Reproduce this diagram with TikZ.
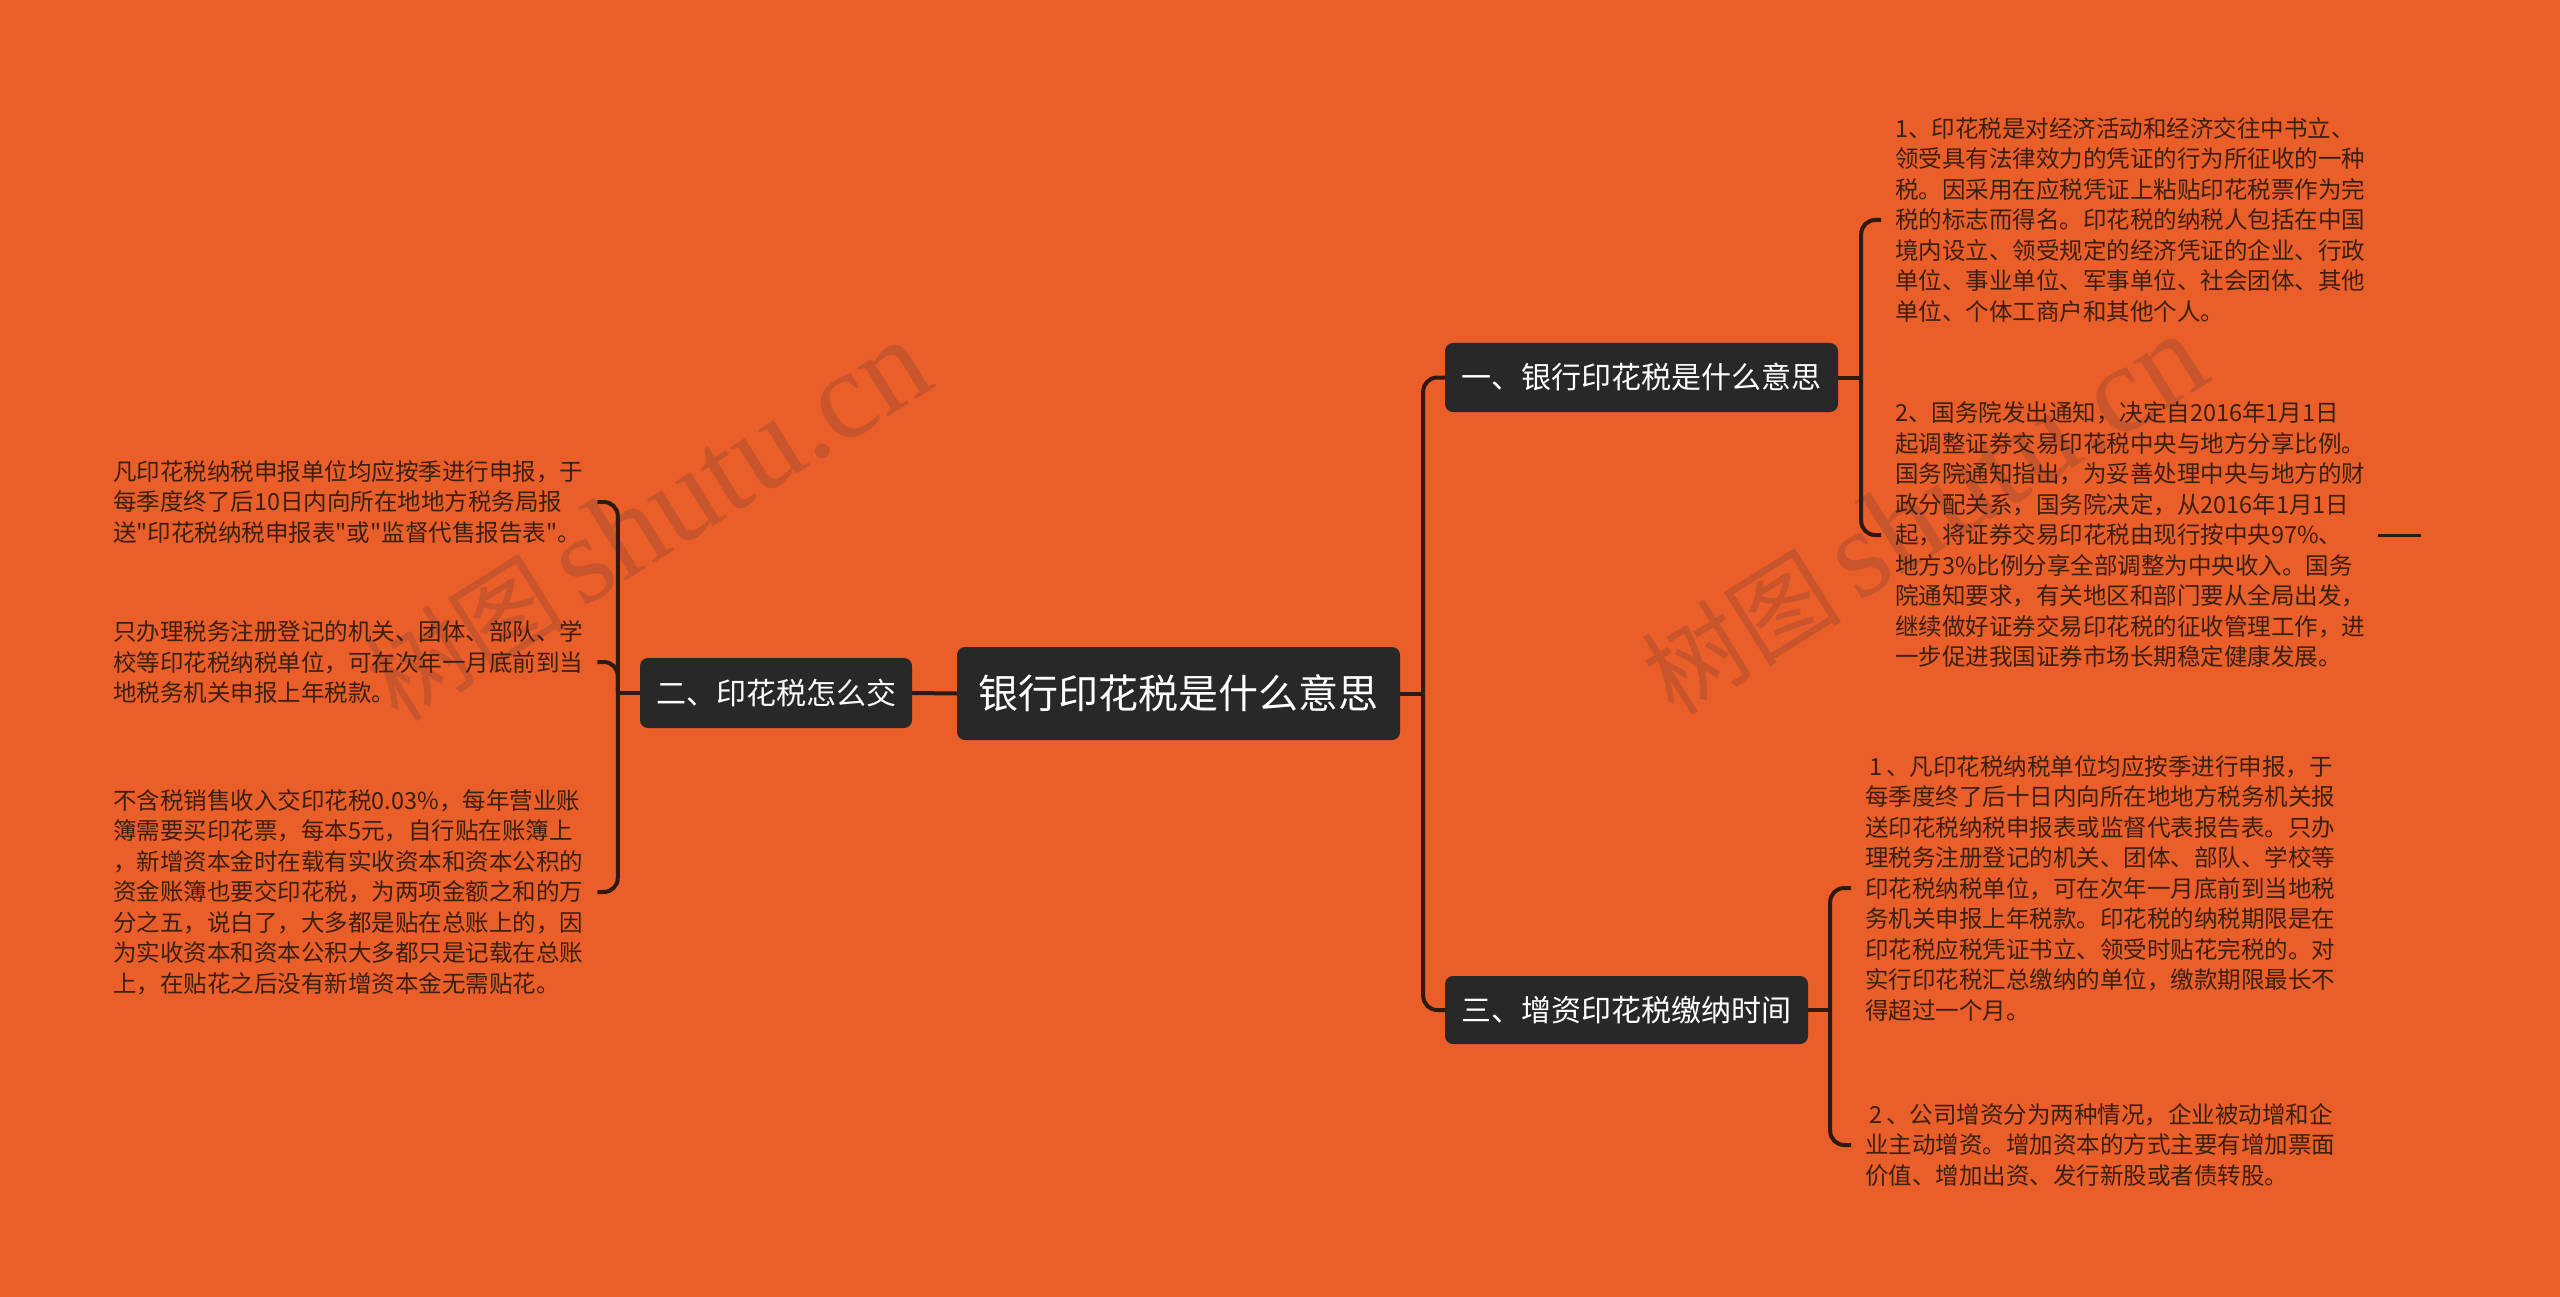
\documentclass[tikz,border=0pt]{standalone}
\usepackage{fontspec}
\newfontfamily\cjk{Noto Sans CJK SC}
\newfontfamily\wmlatin{Liberation Serif}
\definecolor{bgcol}{HTML}{E95E29}
\definecolor{nodefill}{HTML}{282828}
\definecolor{linecol}{HTML}{2E1A10}
\definecolor{leaftext}{HTML}{3B2012}
\definecolor{wmcol}{HTML}{C9552C}
\tikzset{
  topic/.style={fill=nodefill, rounded corners=8pt, text=white, inner sep=0pt,
    font=\cjk\fontsize{30}{36}\selectfont},
  leaf/.style={align=left, inner xsep=14pt, inner ysep=0pt, text=leaftext,
    font=\cjk\fontsize{23.5}{30.5}\selectfont, anchor=west},
  leafr/.style={leaf},
  leafl/.style={leaf},
  conn/.style={draw=linecol, line width=4pt, rounded corners=14pt},
  wmark/.style={text=wmcol, rotate=32, inner sep=0pt}
}
\begin{document}
\begin{tikzpicture}[x=1pt,y=-1pt]
\useasboundingbox (0,0) rectangle (2560,1297);
\fill[bgcol] (0,0) rectangle (2560,1297);

% watermarks
\node[wmark] (wm1) at (648,521) {\cjk\fontsize{100}{110}\selectfont 树图\,{\wmlatin\fontsize{125}{130}\selectfont shutu.cn}};
\node[wmark] (wm2) at (1924,515) {\cjk\fontsize{100}{110}\selectfont 树图\,{\wmlatin\fontsize{125}{130}\selectfont shutu.cn}};

% topics
\node[topic, minimum width=443pt, minimum height=93pt, font=\cjk\fontsize{40}{48}\selectfont] (c) at (1178.5,693.5) {银行印花税是什么意思};
\node[topic, minimum width=272pt, minimum height=70pt] (n2) at (776,693) {二、印花税怎么交};
\node[topic, minimum width=393pt, minimum height=69pt] (n1) at (1641.5,377.5) {一、银行印花税是什么意思};
\node[topic, minimum width=363pt, minimum height=68pt] (n3) at (1626.5,1010) {三、增资印花税缴纳时间};

% left leaves
\node[leafl] (ll1) at (99,502) {凡印花税纳税申报单位均应按季进行申报，于\\每季度终了后10日内向所在地地方税务局报\\送"印花税纳税申报表"或"监督代售报告表"。};
\node[leafl] (ll2) at (99,662) {只办理税务注册登记的机关、团体、部队、学\\校等印花税纳税单位，可在次年一月底前到当\\地税务机关申报上年税款。};
\node[leafl] (ll3) at (99,892) {不含税销售收入交印花税0.03\%，每年营业账\\簿需要买印花票，每本5元，自行贴在账簿上\\，新增资本金时在载有实收资本和资本公积的\\资金账簿也要交印花税，为两项金额之和的万\\分之五，说白了，大多都是贴在总账上的，因\\为实收资本和资本公积大多都只是记载在总账\\上，在贴花之后没有新增资本金无需贴花。};

% right leaves
\node[leafr] (rl1) at (1881,220) {1、印花税是对经济活动和经济交往中书立、\\领受具有法律效力的凭证的行为所征收的一种\\税。因采用在应税凭证上粘贴印花税票作为完\\税的标志而得名。印花税的纳税人包括在中国\\境内设立、领受规定的经济凭证的企业、行政\\单位、事业单位、军事单位、社会团体、其他\\单位、个体工商户和其他个人。};
\node[leafr] (rl2) at (1881,535) {2、国务院发出通知，决定自2016年1月1日\\起调整证券交易印花税中央与地方分享比例。\\国务院通知指出，为妥善处理中央与地方的财\\政分配关系，国务院决定，从2016年1月1日\\起，将证券交易印花税由现行按中央97\%、\\地方3\%比例分享全部调整为中央收入。国务\\院通知要求，有关地区和部门要从全局出发，\\继续做好证券交易印花税的征收管理工作，进\\一步促进我国证券市场长期稳定健康发展。};
\node[leafr] (rl3) at (1851,888) {\hspace*{4pt}1\hspace{4pt}、凡印花税纳税单位均应按季进行申报，于\\每季度终了后十日内向所在地地方税务机关报\\送印花税纳税申报表或监督代表报告表。只办\\理税务注册登记的机关、团体、部队、学校等\\印花税纳税单位，可在次年一月底前到当地税\\务机关申报上年税款。印花税的纳税期限是在\\印花税应税凭证书立、领受时贴花完税的。对\\实行印花税汇总缴纳的单位，缴款期限最长不\\得超过一个月。};
\node[leafr] (rl4) at (1851,1145) {\hspace*{4pt}2\hspace{4pt}、公司增资分为两种情况，企业被动增和企\\业主动增资。增加资本的方式主要有增加票面\\价值、增加出资、发行新股或者债转股。};

% connectors: center to topics
\coordinate (rb) at ([xshift=23pt]c.east);
\draw[conn] (c.east) -- (rb);
\draw[conn] (rb) -- (rb |- n1.west) -- (n1.west);
\draw[conn] (rb) -- (rb |- n3.west) -- (n3.west);
\draw[conn] (c.west) -- (n2.east);

% left bracket
\coordinate (lb) at ([xshift=-22pt]n2.west);
\draw[conn] (n2.west) -- (lb);
\draw[conn] (lb) -- (lb |- ll1.east) -- (ll1.east);
\draw[conn] (lb) -- (lb |- ll2.east) -- (ll2.east);
\draw[conn] (lb) -- (lb |- ll3.east) -- (ll3.east);

% topic 1 bracket
\coordinate (b1) at ([xshift=23pt]n1.east);
\draw[conn] (n1.east) -- (b1);
\draw[conn] (b1) -- (b1 |- rl1.west) -- (rl1.west);
\draw[conn] (b1) -- (b1 |- rl2.west) -- (rl2.west);

% topic 3 bracket
\coordinate (b3) at ([xshift=22pt]n3.east);
\draw[conn] (n3.east) -- (b3);
\draw[conn] (b3) -- (b3 |- rl3.west) -- (rl3.west);
\draw[conn] (b3) -- (b3 |- rl4.west) -- (rl4.west);

% small dash at right
\coordinate (d1) at (2378,535);
\coordinate (d2) at (2421,535);
\draw[draw=linecol, line width=3pt] (d1) -- (d2);
\end{tikzpicture}
\end{document}
